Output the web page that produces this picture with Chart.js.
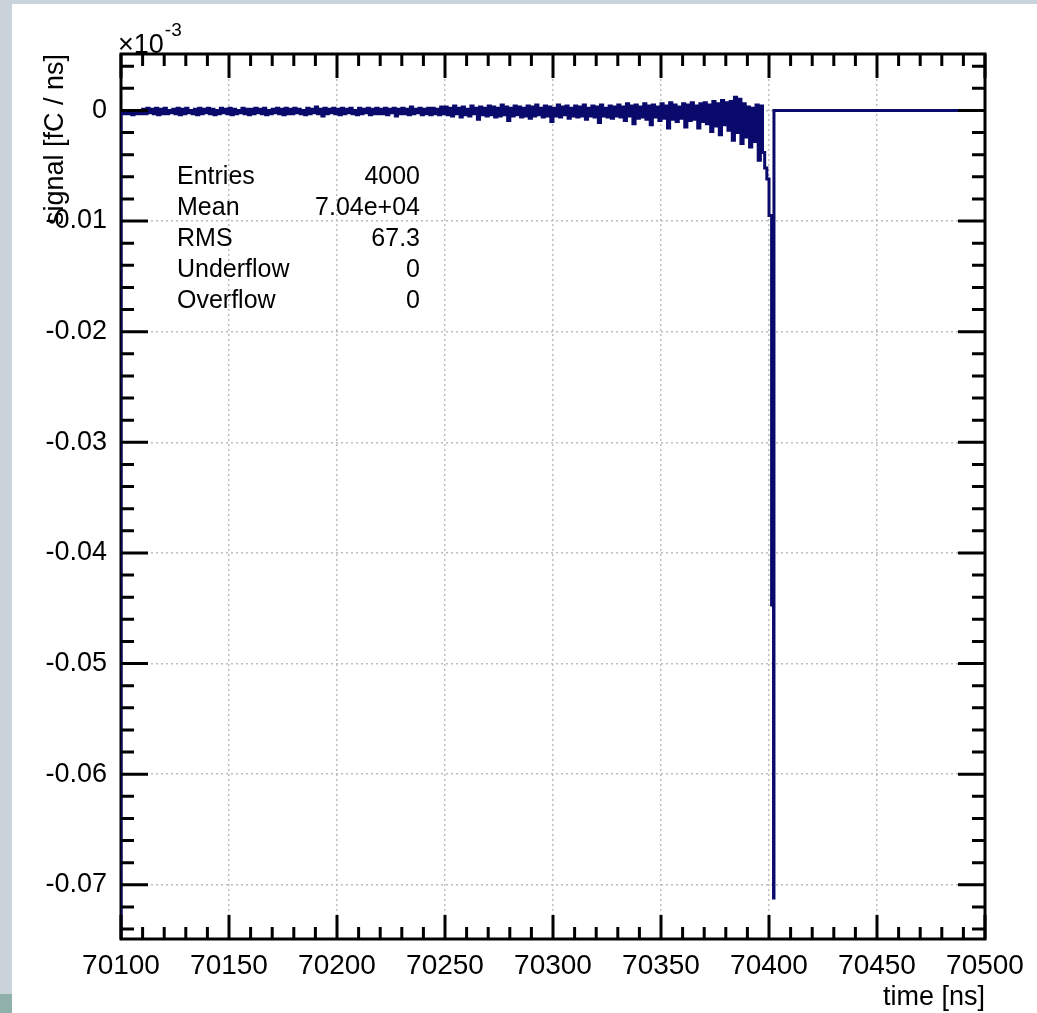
<!DOCTYPE html>
<html>
<head>
<meta charset="utf-8">
<script src="https://cdn.jsdelivr.net/npm/chart.js@4.4.1/dist/chart.umd.min.js"></script>
<style>
  html, body { margin: 0; padding: 0; }
  body { width: 1037px; height: 1013px; background: #c9d3d9; position: relative; overflow: hidden; }
  #sheet { position: absolute; left: 12px; top: 4px; right: 0; bottom: 0; background: #ffffff; }
  #corner { position: absolute; left: 0; top: 994px; width: 12px; height: 19px; background: #90b0ac; }
  #wrap { position: absolute; left: 0; top: 0; width: 1037px; height: 1013px; }
</style>
</head>
<body>
<div id="sheet"></div>
<div id="corner"></div>
<div id="wrap"><canvas id="c" width="1037" height="1013"></canvas></div>
<script>
const FONT = "'Liberation Sans', Arial, Helvetica, sans-serif";

// Axis ranges
const TIME_MIN = 70100, TIME_MAX = 70500;          // ns
const SIGNAL_MIN = -0.0749, SIGNAL_MAX = 0.0051;   // fC / ns

// Labelled ticks
const xTicks = [70100, 70150, 70200, 70250, 70300, 70350, 70400, 70450, 70500];
const yTicks = [0, -0.01, -0.02, -0.03, -0.04, -0.05, -0.06, -0.07];
const yTickLabels = ['0', '-0.01', '-0.02', '-0.03', '-0.04', '-0.05', '-0.06', '-0.07'];
const MINOR_X_STEP = 10, MINOR_Y_STEP = 0.002;

// Signal before the pulse: 1 ns bins from 70100 ns to 70398 ns, in units of 1e-4 fC/ns
const SIGNAL_UNIT = 1e-4;
const baselineStart = 70100;
const baselineBinWidth = 1;
const baselineSignal = [
  // 70100 - 70249
  -2,-3, -2,-3, -2,-4, -1,-3, -2,-3, 1,-3, 2,-2, 1,-3, 2,-4, 1,-3,
  2,-3, 0,-2, 1,-3, 2,-4, 1,-3, 2,-2, 0,-3, 1,-4, 2,-3, 1,-2,
  2,-3, 1,-4, 0,-3, 2,-2, 1,-3, 2,-4, 1,-3, 0,-2, 2,-3, 1,-4,
  1,-3, 2,-2, 1,-3, 2,-4, 0,-3, 1,-2, 2,-3, 1,-4, 2,-3, 1,-3,
  2,-2, 1,-3, 0,-4, 2,-3, 1,-2, 3,-3, 1,-5, 2,-3, 1,-2, 2,-3,
  1,-4, 2,-3, 1,-2, 2,-3, 0,-4, 2,-3, 1,-2, 2,-4, 1,-3, 2,-3,
  1,-3, 2,-4, 1,-2, 2,-5, 1,-3, 2,-3, 1,-4, 3,-3, 1,-2, 2,-4,
  1,-3, 2,-4, 2,-3, 1,-4, 3,-3,
  // 70250 - 70329
  3,-4, 2,-5, 4,-3, 2,-6, 3,-4, 1,-5, 4,-3, 2,-8, 3,-4, 2,-5,
  4,-4, 3,-6, 2,-5, 5,-4, 3,-9, 2,-5, 4,-4, 3,-6, 2,-5, 4,-7,
  3,-5, 5,-4, 2,-6, 4,-5, 3,-10, 2,-5, 5,-6, 3,-4, 4,-7, 2,-5,
  4,-6, 3,-5, 5,-8, 2,-5, 4,-6, 3,-11, 5,-5, 2,-6, 4,-7, 3,-5,
  // 70330 - 70369
  5,-6, 3,-9, 6,-5, 4,-12, 5,-7, 3,-6, 6,-8, 4,-13, 5,-6, 3,-9,
  6,-7, 4,-16, 7,-8, 5,-10, 3,-7, 6,-15, 5,-9, 7,-8, 4,-16, 6,-10,
  // 70370 - 70389
  7,-12, 5,-19, 8,-14, 6,-22, 9,-13, 7,-18, 8,-27, 12,-20, 10,-30, 6,-24,
  // 70390 - 70398
  3,-33, 2,-28, 5,-45, 4,-38, -52
];

// Pulse: bin lower edges (ns) and contents (1e-4 fC/ns); the last edge closes the pulse
const pulseEdges = [70399, 70400, 70401.2, 70402.1, 70402.3];
const pulseSignal = [-62, -95, -447, -712];
const tailSignal = 0;

// Statistics box
const statNames = ['Entries', 'Mean', 'RMS', 'Underflow', 'Overflow'];
const statValues = ['4000', '7.04e+04', '67.3', '0', '0'];

// Histogram outline as step points (left bin edges)
const outline = [{ x: TIME_MIN, y: SIGNAL_MIN }];
baselineSignal.forEach((v, i) => outline.push({ x: baselineStart + i * baselineBinWidth, y: v * SIGNAL_UNIT }));
pulseSignal.forEach((v, i) => outline.push({ x: pulseEdges[i], y: v * SIGNAL_UNIT }));
outline.push({ x: pulseEdges[pulseEdges.length - 1], y: tailSignal });
outline.push({ x: TIME_MAX, y: tailSignal });

const frameAndTicks = {
  id: 'frameAndTicks',
  beforeDatasetsDraw(chart) {
    const { ctx, chartArea: a } = chart;
    ctx.save();
    ctx.strokeStyle = '#000';
    ctx.lineWidth = 3;
    ctx.strokeRect(a.left, a.top, a.right - a.left, a.bottom - a.top);
    ctx.restore();
  },
  afterDatasetsDraw(chart) {
    const { ctx, chartArea: a, scales: { x, y } } = chart;
    ctx.save();
    ctx.strokeStyle = '#000';
    ctx.lineWidth = 3;
    ctx.lineCap = 'butt';
    ctx.beginPath();
    const nx = Math.round((TIME_MAX - TIME_MIN) / MINOR_X_STEP);
    for (let k = 0; k <= nx; k++) {
      const px = x.getPixelForValue(TIME_MIN + k * MINOR_X_STEP);
      const len = k % 5 === 0 ? 24 : 12;
      ctx.moveTo(px, a.bottom); ctx.lineTo(px, a.bottom - len);
      ctx.moveTo(px, a.top); ctx.lineTo(px, a.top + len);
    }
    const kLo = Math.ceil(SIGNAL_MIN / MINOR_Y_STEP), kHi = Math.floor(SIGNAL_MAX / MINOR_Y_STEP);
    for (let k = kLo; k <= kHi; k++) {
      const py = y.getPixelForValue(k * MINOR_Y_STEP);
      const len = k % 5 === 0 ? 27 : 13;
      ctx.moveTo(a.left, py); ctx.lineTo(a.left + len, py);
      ctx.moveTo(a.right, py); ctx.lineTo(a.right - len, py);
    }
    ctx.stroke();

    // axis exponent
    ctx.fillStyle = '#000';
    ctx.textBaseline = 'alphabetic';
    ctx.textAlign = 'left';
    ctx.font = '27px ' + FONT;
    ctx.fillText('\u00d710', a.left - 3, a.top - 1);
    const w = ctx.measureText('\u00d710').width;
    ctx.font = '19px ' + FONT;
    ctx.fillText('-3', a.left - 3 + w + 1, a.top - 18);

    // statistics box
    ctx.font = '25px ' + FONT;
    ctx.textBaseline = 'middle';
    statNames.forEach((name, i) => {
      const ty = 177 + i * 31;
      ctx.textAlign = 'left';
      ctx.fillText(name, 177, ty);
      ctx.textAlign = 'right';
      ctx.fillText(statValues[i], 420, ty);
    });
    ctx.restore();
  }
};

new Chart(document.getElementById('c'), {
  type: 'line',
  data: {
    datasets: [{
      data: outline,
      parsing: false,
      stepped: true,
      borderColor: '#0a0a6c',
      borderWidth: 3,
      pointRadius: 0,
      fill: false,
      tension: 0
    }]
  },
  options: {
    responsive: false,
    animation: false,
    devicePixelRatio: 1,
    layout: { padding: { left: 0, top: 54, right: 52, bottom: 0 } },
    plugins: { legend: { display: false }, tooltip: { enabled: false } },
    scales: {
      x: {
        type: 'linear',
        min: TIME_MIN,
        max: TIME_MAX,
        afterBuildTicks: s => { s.ticks = xTicks.map(v => ({ value: v })); },
        afterFit: s => { s.height = 74; },
        ticks: {
          font: { family: FONT, size: 28 },
          color: '#000',
          padding: 10,
          maxRotation: 0,
          autoSkip: false,
          callback: v => String(v)
        },
        grid: { color: '#bdbdbd', lineWidth: 1.5, drawTicks: false },
        border: { display: false, dash: [2, 3] },
        title: {
          display: true, text: 'time [ns]', align: 'end', color: '#000',
          font: { family: FONT, size: 27, lineHeight: 1 },
          padding: { top: 0, bottom: 1.5 }
        }
      },
      y: {
        type: 'linear',
        min: SIGNAL_MIN,
        max: SIGNAL_MAX,
        afterBuildTicks: s => { s.ticks = yTicks.map(v => ({ value: v })); },
        afterFit: s => { s.width = 121; },
        ticks: {
          font: { family: FONT, size: 27 },
          color: '#000',
          padding: 14,
          callback: (v, i) => yTickLabels[i]
        },
        grid: { color: '#bdbdbd', lineWidth: 1.5, drawTicks: false },
        border: { display: false, dash: [2, 3] },
        title: {
          display: true, text: 'signal [fC / ns]', align: 'end', color: '#000',
          font: { family: FONT, size: 27, lineHeight: 1 },
          padding: { top: 42, bottom: 0 }
        }
      }
    }
  },
  plugins: [frameAndTicks]
});
</script>
</body>
</html>
